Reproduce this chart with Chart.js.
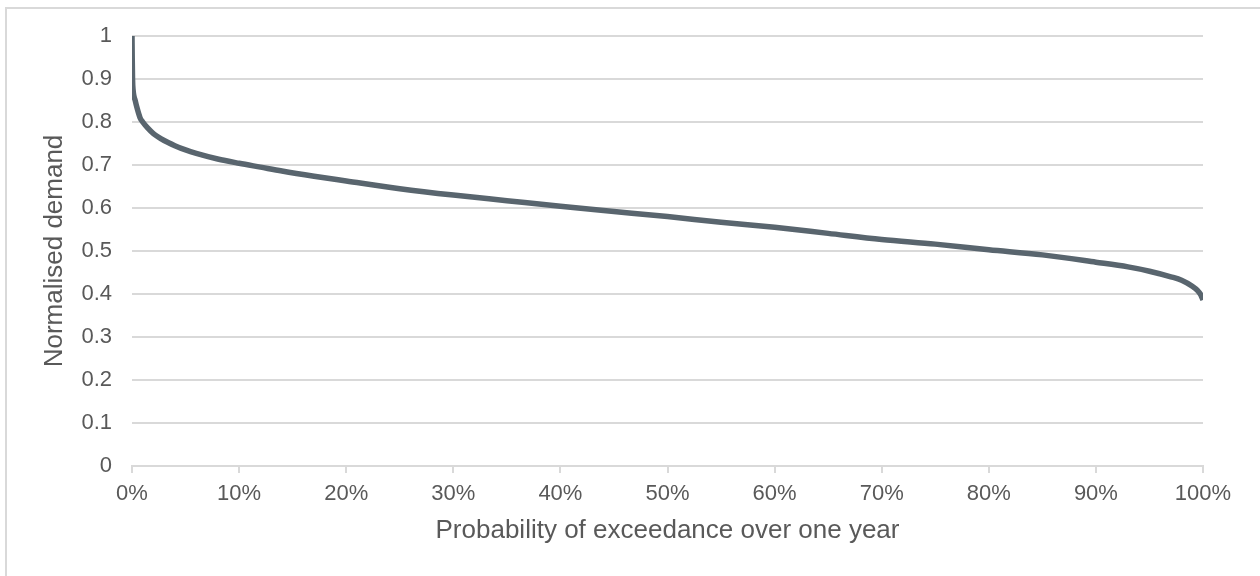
<!DOCTYPE html>
<html>
<head>
<meta charset="utf-8">
<script src="https://cdn.jsdelivr.net/npm/chart.js@4/dist/chart.umd.min.js"></script>
<style>
  html, body { margin: 0; padding: 0; background: #fff; overflow: hidden; }
  #frame { position: absolute; left: 5px; top: 7px; width: 1300px; height: 620px; border: 2px solid #d9d9d9; box-sizing: border-box; }
  #wrap { position: absolute; left: 0; top: 0; width: 1260px; height: 576px; }
</style>
</head>
<body>
<div id="frame"></div>
<div id="wrap"><canvas id="myChart" width="1260" height="576"></canvas></div>
<script>
// probability of exceedance (%) and normalised demand
var exceedance = [0, 0.02, 0.05, 0.1, 0.3, 0.5, 0.75, 1, 1.5, 2, 3, 4, 5, 6, 8, 10, 12, 14, 17, 20,
    25, 30, 35, 40, 45, 50, 55, 60, 65, 70, 75, 80, 85, 90, 93, 95, 97, 98, 99, 99.5, 99.8, 100];
var demand = [1.0, 0.95, 0.9, 0.875, 0.85, 0.83, 0.81, 0.8, 0.785, 0.773, 0.757, 0.745, 0.735, 0.727, 0.714, 0.704, 0.695, 0.686, 0.674, 0.663,
    0.645, 0.63, 0.617, 0.604, 0.592, 0.58, 0.567, 0.555, 0.541, 0.527, 0.516, 0.503, 0.491, 0.474, 0.463, 0.453, 0.44, 0.432, 0.418, 0.408, 0.398, 0.386];
var xTitle = 'Probability of exceedance over one year';
var yTitle = 'Normalised demand';

var points = [];
for (var i = 0; i < exceedance.length; i++) {
    points.push({x: exceedance[i], y: demand[i]});
}

var gridCol = '#d9d9d9';
var textCol = '#595959';

var ctx = document.getElementById('myChart').getContext('2d');
var chart1 = new Chart(ctx, {
    type: 'line',
    data: {
        datasets: [{
            label: yTitle,
            data: points,
            borderColor: '#59656e',
            borderWidth: 5.5,
            pointRadius: 0,
            fill: false,
            cubicInterpolationMode: 'monotone'
        }]
    },
    options: {
        responsive: false,
        animation: false,
        layout: { padding: { left: 35, right: 57, top: 36, bottom: 26 } },
        plugins: { legend: { display: false }, tooltip: { enabled: false } },
        scales: {
            x: {
                type: 'linear',
                min: 0,
                max: 100,
                afterFit: function (scale) { scale.height = 84; },
                ticks: {
                    stepSize: 10,
                    color: textCol,
                    font: { family: 'Liberation Sans', size: 22 },
                    padding: 8,
                    maxRotation: 0,
                    callback: function (v) { return v + '%'; }
                },
                grid: { drawOnChartArea: false, drawTicks: true, tickLength: 7, color: gridCol, lineWidth: 2 },
                border: { display: true, color: gridCol, width: 2 },
                title: {
                    display: true,
                    text: xTitle,
                    color: textCol,
                    font: { family: 'Liberation Sans', size: 26 },
                    padding: { top: 4, bottom: 4 }
                }
            },
            y: {
                min: 0,
                max: 1,
                afterFit: function (scale) { scale.width = 97; },
                ticks: {
                    stepSize: 0.1,
                    color: textCol,
                    font: { family: 'Liberation Sans', size: 22 },
                    padding: 20,
                    callback: function (v) { return String(Math.round(v * 10) / 10); }
                },
                grid: { color: gridCol, lineWidth: 2, drawTicks: false },
                border: { display: false },
                title: {
                    display: true,
                    text: yTitle,
                    color: textCol,
                    font: { family: 'Liberation Sans', size: 26 },
                    padding: { top: 4, bottom: 4 }
                }
            }
        }
    }
});
</script>
</body>
</html>
